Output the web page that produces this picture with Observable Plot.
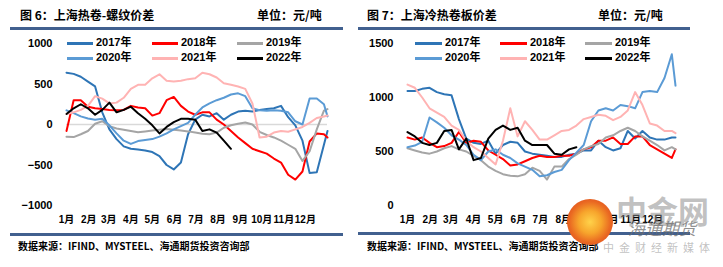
<!DOCTYPE html>
<html><head><meta charset="utf-8">
<script src="https://cdn.jsdelivr.net/npm/d3@7"></script>
<script src="https://cdn.jsdelivr.net/npm/@observablehq/plot@0.6"></script>
<style>
body{margin:0;background:#fff;}
#root{position:relative;width:723px;height:267px;overflow:hidden;background:#fff;}
.t{position:absolute;font-family:"Noto Sans CJK SC",sans-serif;font-weight:700;white-space:nowrap;line-height:1;color:#000;}
.rule{position:absolute;height:3px;background:#41608f;}
.plotbox{position:absolute;}
.lg{position:absolute;font-family:"Liberation Sans","Noto Sans CJK SC",sans-serif;font-weight:700;font-size:11px;line-height:1;white-space:nowrap;}
.sw{position:absolute;height:2.5px;}
.wm{position:absolute;white-space:nowrap;line-height:1;font-family:"Noto Sans CJK SC",sans-serif;}
</style>
</head><body><div id="root"></div>
<script>
// ---------- data ----------
const days = [0,10,20,30,40,50,60,70,80,90,100,110,120,130,140,150,160,170,180,190,200,210,220,230,240,250,260,270,280,290,300,310,320,330,340,350,360,365];
const years = ["2017年","2018年","2019年","2020年","2021年","2022年"];
const colors = ["#2e75b6","#ff0000","#a5a5a5","#5b9bd5","#ffb3b3","#000000"];
const monthStarts = [0,31,59,90,120,151,181,212,243,273,304,334];
const monthLabels = ["1月","2月","3月","4月","5月","6月","7月","8月","9月","10月","11月","12月"];

// 图6 上海热卷-螺纹价差 (元/吨)
const hr2017 = [640,625,590,530,470,150,-60,-180,-270,-300,-310,-320,-340,-390,-500,-555,-470,-120,60,120,100,140,60,120,160,170,160,180,190,200,230,90,-10,-200,-600,-590,-250,-80];
const hr2018 = [-80,300,300,220,200,190,180,175,180,230,210,200,110,140,300,340,230,160,120,150,150,60,0,-80,-160,-230,-300,-330,-360,-420,-470,-620,-680,-580,-210,-110,-120,-160];
const hr2019 = [-150,-155,-120,-80,10,40,-20,-50,-65,-80,-95,-85,-75,-65,-55,-65,-75,-85,-100,-115,-120,-100,-40,-10,10,25,0,-90,-130,-160,-200,-250,-300,-450,-330,-60,170,190];
const hr2020 = [175,140,100,75,60,70,-10,-110,-200,-240,-205,-190,-180,-150,-110,-60,-20,20,120,210,260,300,330,370,385,350,200,175,170,175,170,150,40,0,320,320,250,100];
const hr2021 = [130,150,180,230,350,320,260,270,330,440,490,490,570,620,540,530,540,560,570,640,620,580,510,490,470,440,260,-160,-150,-100,-80,-90,-60,-30,20,80,100,110];
const hr2022 = [130,200,250,200,120,180,270,150,180,220,140,70,-10,-110,-30,30,70,70,60,-80,-60,-100,-200,-300];

// 图7 上海冷热卷板价差 (元/吨)
const cr2017 = [1060,1060,1080,1090,1050,1030,1020,800,620,580,570,600,480,560,590,580,500,480,470,460,450,450,470,480,510,510,600,540,510,530,690,620,690,630,610,610,630,630];
const cr2018 = [630,610,630,580,540,550,580,680,580,600,590,510,470,430,370,380,410,440,460,450,450,460,460,480,520,540,600,600,630,570,570,640,640,560,520,480,440,520];
const cr2019 = [530,510,490,480,500,530,550,520,500,460,420,360,320,290,275,270,290,350,320,240,360,360,430,470,520,550,570,630,650,690,720,690,640,600,560,510,540,520];
const cr2020 = [540,555,590,815,770,720,650,610,560,470,420,500,520,470,440,390,360,330,270,280,310,330,420,490,560,780,880,900,880,930,920,900,1050,1060,1050,1180,1400,1110];
const cr2021 = [1120,1090,1000,900,860,820,740,700,600,540,500,440,380,600,900,640,780,700,610,610,650,690,700,740,800,820,840,830,790,820,880,1050,930,760,740,690,690,670];
const cr2022 = [680,640,580,560,580,690,700,520,620,420,440,620,700,740,700,720,600,560,560,560,480,470,520,540];

const leftTicks = [-1000,-500,0,500,1000];
const rightTicks = [0,500,1000,1500];

// ---------- helpers ----------
function toRows(list){
  const rows=[];
  list.forEach((vals,k)=>vals.forEach((v,i)=>rows.push({year:years[k],d:days[i],v})));
  return rows;
}
const root = document.getElementById("root");
function add(cls, css, text){
  const el=document.createElement("div"); el.className=cls;
  Object.assign(el.style, css); if(text!=null) el.textContent=text; root.appendChild(el); return el;
}
const fontStyle = {fontFamily:"'Liberation Sans','Noto Sans CJK SC',sans-serif", fontSize:"11px", fontWeight:"bold", color:"#000", background:"transparent", overflow:"visible"};
const fmtY = d => d < 0 ? "\u2212" + (-d) : String(d);

function makePlot({rows, yDomain, yTicks, width, ml, mr, zero}){
  return Plot.plot({
    width, height:200, marginLeft:ml, marginRight:mr, marginTop:13, marginBottom:25,
    style: fontStyle,
    x:{domain:[0,365]},
    y:{domain:yDomain},
    color:{domain:years, range:colors},
    marks:[
      zero ? Plot.ruleY([0],{stroke:"#d9d9d9",strokeWidth:1.5}) : null,
      Plot.axisY(yTicks,{tickSize:0,tickPadding:14,label:null,fontSize:11,fontWeight:"bold",tickFormat:fmtY}),
      Plot.axisX(monthStarts,{tickSize:0,tickPadding:10,label:null,fontSize:10,fontWeight:"bold",
        tickFormat:(d)=>monthLabels[monthStarts.indexOf(d)]}),
      Plot.line(rows,{x:"d",y:"v",z:"year",stroke:"year",strokeWidth:2,curve:"linear"})
    ]
  });
}

// ---------- left panel ----------
add("t",{left:"20px",top:"9px",fontSize:"12px"},"图 6：上海热卷-螺纹价差");
add("t",{left:"257px",top:"9px",fontSize:"12px"},"单位：元/吨");
add("rule",{left:"10px",top:"27px",width:"333px"});
const p1 = makePlot({rows:toRows([hr2017,hr2018,hr2019,hr2020,hr2021,hr2022]), yDomain:[-1000,1000], yTicks:leftTicks, width:360, ml:66, mr:33, zero:true});
const b1 = add("plotbox",{left:"0px",top:"30px"}); b1.appendChild(p1);
add("rule",{left:"10px",top:"233px",width:"333px"});
add("t",{left:"18px",top:"241px",fontSize:"10px"},"数据来源：IFIND、MYSTEEL、海通期货投资咨询部");

// ---------- right panel ----------
add("t",{left:"367px",top:"9px",fontSize:"12px"},"图 7：上海冷热卷板价差");
add("t",{left:"598px",top:"9px",fontSize:"12px"},"单位：元/吨");
add("rule",{left:"358px",top:"27px",width:"332px"});
const p2 = makePlot({rows:toRows([cr2017,cr2018,cr2019,cr2020,cr2021,cr2022]), yDomain:[0,1500], yTicks:rightTicks, width:363, ml:47, mr:48, zero:false});
const b2 = add("plotbox",{left:"360px",top:"30px"}); b2.appendChild(p2);
add("rule",{left:"358px",top:"232px",width:"332px"});
add("t",{left:"367px",top:"241px",fontSize:"10px"},"数据来源：IFIND、MYSTEEL、海通期货投资咨询部");

// ---------- legends ----------
function legend(x0, swW, gap){
  years.forEach((y,i)=>{
    const col=i%3, row=Math.floor(i/3);
    const x=x0+col*gap, yy=43+row*15;
    add("sw",{left:x+"px",top:(yy-1)+"px",width:swW+"px",background:colors[i]});
    add("lg",{left:(x+swW+3)+"px",top:(yy-6)+"px"},y);
  });
}
legend(67,26,85);
legend(415,27,85);

// ---------- watermark ----------
add("wm",{left:"567px",top:"199px",width:"46px",height:"46px",borderRadius:"50%",
  background:"radial-gradient(circle at 50% 50%, #ffd24a 0%, #f7a52c 35%, #ea6a22 62%, #d8381c 100%)"});
add("wm",{left:"616px",top:"194px",fontSize:"31px",fontWeight:"700",color:"rgba(140,140,140,0.55)"},"中金网");
add("wm",{left:"628px",top:"219px",fontSize:"17px",fontWeight:"400",fontStyle:"italic",color:"rgba(110,110,110,0.75)"},"海通期货");
add("wm",{left:"603px",top:"242px",fontSize:"11px",letterSpacing:"5px",color:"rgba(160,160,160,0.65)"},"中金财经新媒体");
</script>
</body></html>
